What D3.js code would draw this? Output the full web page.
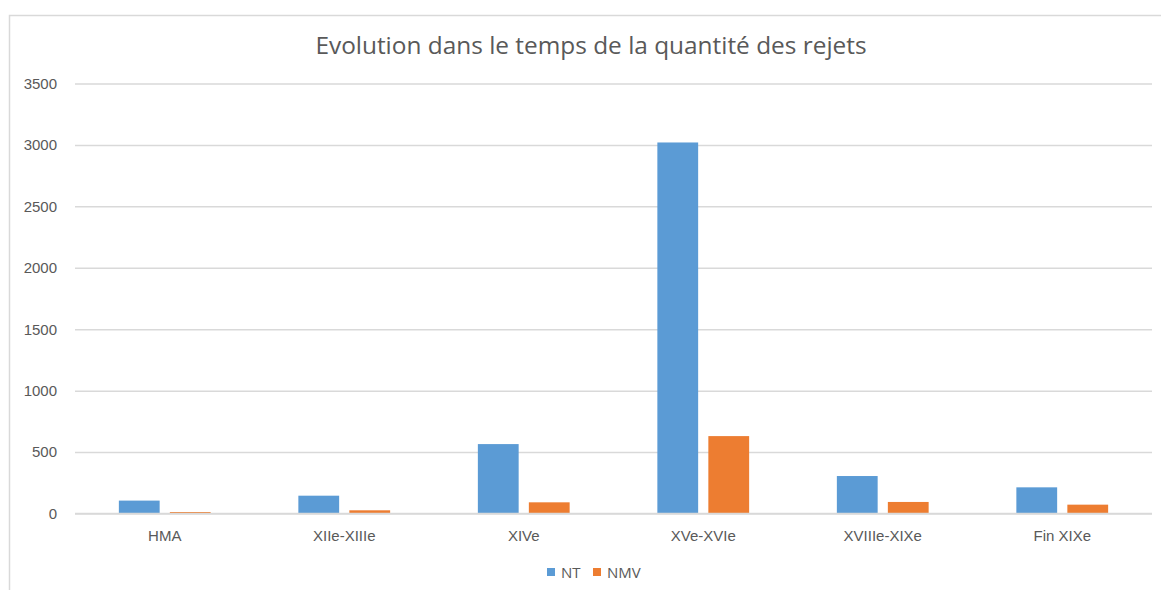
<!DOCTYPE html>
<html>
<head>
<meta charset="utf-8">
<script src="https://cdn.jsdelivr.net/npm/d3@7"></script>
<style>
  body { margin: 0; background: #fff; }
  svg { display: block; font-family: 'Open Sans', 'Liberation Sans', sans-serif; }
  .tick text { fill: #595959; }
</style>
</head>
<body>
<svg id="chart"></svg>
<script>
// Data
const categories = ['HMA', 'XIIe-XIIIe', 'XIVe', 'XVe-XVIe', 'XVIIIe-XIXe', 'Fin XIXe'];
const seriesNames = ['NT', 'NMV'];
const ntValues = [105, 145, 565, 3020, 305, 213];
const nmvValues = [12, 26, 91, 630, 94, 72];
const yTicks = [0, 500, 1000, 1500, 2000, 2500, 3000, 3500];
const colors = ['#5b9bd5', '#ed7d31'];

const config = {
  width: 1161,
  height: 590,
  margin: {top: 83.5, right: 9, bottom: 76.5, left: 75}
};

const svg = d3.select('#chart')
  .attr('width', config.width)
  .attr('height', config.height);

// Chart frame (runs off the right and bottom edge)
svg.append('rect')
  .attr('x', 9.5)
  .attr('y', 15.5)
  .attr('width', 1200)
  .attr('height', 700)
  .attr('fill', 'none')
  .attr('stroke', '#d9d9d9')
  .attr('stroke-width', 1.5);

const innerW = config.width - config.margin.left - config.margin.right;
const innerH = config.height - config.margin.top - config.margin.bottom;

const g = svg.append('g')
  .attr('transform', `translate(${config.margin.left},${config.margin.top})`);

const x0 = d3.scaleBand()
  .domain(categories)
  .range([0, innerW])
  .padding(0);

const x1 = d3.scaleBand()
  .domain(seriesNames)
  .range([0, x0.bandwidth()])
  .paddingInner(0.2)
  .paddingOuter(0.86);

const y = d3.scaleLinear()
  .domain([0, 3500])
  .range([innerH, 0]);

const color = d3.scaleOrdinal().domain(seriesNames).range(colors);

// Gridlines + y labels
const yAxis = g.append('g')
  .call(d3.axisLeft(y).tickValues(yTicks).tickSize(-innerW).tickPadding(18).tickFormat(d3.format('d')));
yAxis.select('.domain').remove();
yAxis.selectAll('.tick line').attr('stroke', '#d9d9d9').attr('stroke-width', 1.5);
yAxis.selectAll('.tick text').style('font-size', '15px');

// Bars
const rows = categories.map((c, i) => ({cat: c, values: [ntValues[i], nmvValues[i]]}));

const groups = g.selectAll('.cat-group')
  .data(rows)
  .join('g')
    .attr('class', 'cat-group')
    .attr('transform', d => `translate(${x0(d.cat)},0)`);

groups.selectAll('rect')
  .data(d => seriesNames.map((s, j) => ({key: s, value: d.values[j]})))
  .join('rect')
    .attr('x', d => x1(d.key))
    .attr('y', d => y(d.value))
    .attr('width', x1.bandwidth())
    .attr('height', d => innerH - y(d.value))
    .attr('fill', d => color(d.key));

// Baseline redraw on top of bars
g.append('line')
  .attr('x1', 0).attr('x2', innerW)
  .attr('y1', y(0)).attr('y2', y(0))
  .attr('stroke', '#d9d9d9').attr('stroke-width', 1.5);

// Category labels
const xAxis = g.append('g')
  .attr('transform', `translate(0,${innerH})`)
  .call(d3.axisBottom(x0).tickSize(0).tickPadding(17));
xAxis.select('.domain').remove();
xAxis.selectAll('.tick text').style('font-size', '15px');

// Title
svg.append('text')
  .attr('x', 591)
  .attr('y', 54)
  .attr('text-anchor', 'middle')
  .attr('fill', '#595959')
  .style('font-size', '24.4px')
  .text('Evolution dans le temps de la quantité des rejets');

// Legend
const legendX = [547, 593];
const legend = svg.append('g')
  .attr('transform', 'translate(0,568)');

const entry = legend.selectAll('.legend-entry')
  .data(seriesNames)
  .join('g')
    .attr('class', 'legend-entry')
    .attr('transform', (d, i) => `translate(${legendX[i]},0)`);

entry.append('rect')
  .attr('width', 8)
  .attr('height', 8)
  .attr('fill', d => color(d));

entry.append('text')
  .attr('x', 14)
  .attr('y', 9.5)
  .attr('fill', '#595959')
  .style('font-size', '15px')
  .text(d => d);
</script>
</body>
</html>
